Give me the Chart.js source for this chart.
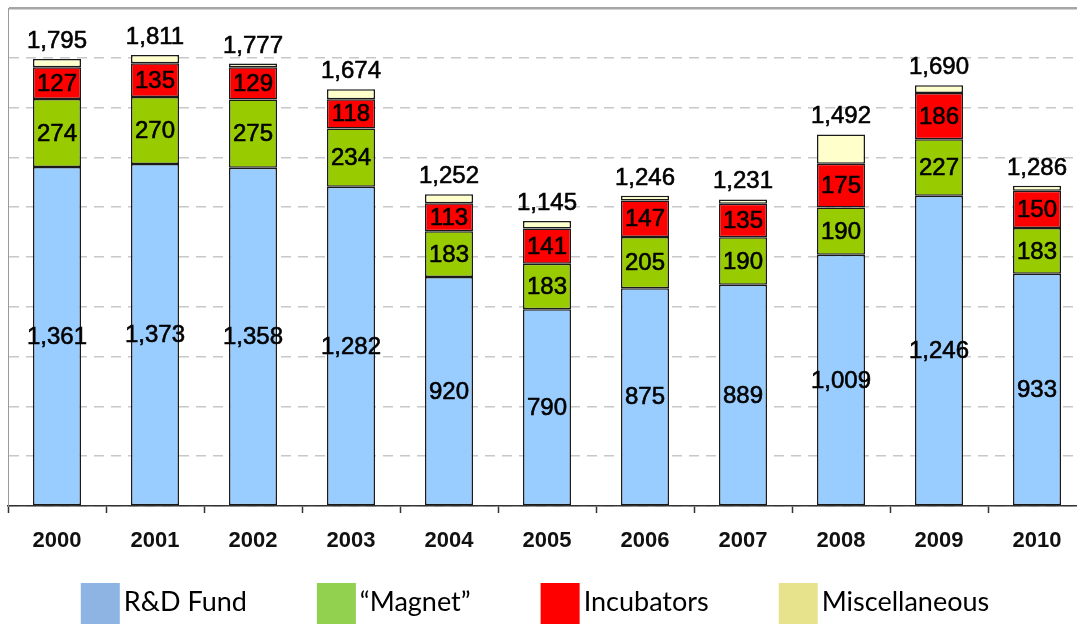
<!DOCTYPE html>
<html>
<head>
<meta charset="utf-8">
<script src="https://cdn.jsdelivr.net/npm/chart.js@4/dist/chart.umd.min.js"></script>
<style>
  html, body { margin: 0; padding: 0; background: #fff; overflow: hidden; }
  #wrap { position: relative; width: 1086px; height: 624px; }
</style>
</head>
<body>
<div id="wrap"><canvas id="c"></canvas></div>
<script>
const years = ['2000','2001','2002','2003','2004','2005','2006','2007','2008','2009','2010'];
const rdFund = [1361,1373,1358,1282,920,790,875,889,1009,1246,933];
const magnet = [274,270,275,234,183,183,205,190,190,227,183];
const incubators = [127,135,129,118,113,141,147,135,175,186,150];
const misc = [33,33,15,40,36,31,19,17,118,31,20];
const totals = [1795,1811,1777,1674,1252,1145,1246,1231,1492,1690,1286];
const seriesNames = ['R&D Fund', '\u201CMagnet\u201D', 'Incubators', 'Miscellaneous'];
const barColors = ['#99CCFF', '#99CC00', '#FF0000', '#FFFFCC'];
const legendColors = ['#8EB4E3', '#92D050', '#FF0000', '#E6E38C'];
const yMax = 2000;
const yStep = 200;

const fmt = v => v.toLocaleString('en-US');

const labelPlugin = {
  id: 'valueLabels',
  afterDatasetsDraw(chart) {
    const ctx = chart.ctx;
    ctx.save();
    ctx.fillStyle = '#000';
    ctx.strokeStyle = '#000';
    ctx.lineWidth = 0.6;
    ctx.font = '24px "Liberation Sans", Arial, sans-serif';
    ctx.textAlign = 'center';
    ctx.textBaseline = 'middle';
    const draw = (t, x, y) => { ctx.fillText(t, x, y); ctx.strokeText(t, x, y); };
    for (let d = 0; d < 3; d++) {
      const meta = chart.getDatasetMeta(d);
      meta.data.forEach((el, i) => {
        const v = chart.data.datasets[d].data[i];
        draw(fmt(v), el.x, (el.y + el.base) / 2 + 1);
      });
    }
    const top = chart.getDatasetMeta(3);
    ctx.textBaseline = 'alphabetic';
    top.data.forEach((el, i) => {
      draw(fmt(totals[i]), el.x, el.y - 11);
    });
    ctx.restore();
  }
};

const legendPlugin = {
  id: 'bottomLegend',
  afterDraw(chart) {
    const ctx = chart.ctx;
    ctx.save();
    ctx.font = '27px Lato, "Noto Sans", sans-serif';
    ctx.textBaseline = 'middle';
    const boxW = 39, gapTxt = 4, gapItem = 70;
    const widths = seriesNames.map(n => boxW + gapTxt + ctx.measureText(n).width);
    const total = widths.reduce((a, b) => a + b, 0) + gapItem * (seriesNames.length - 1);
    let x = 535 - total / 2;
    seriesNames.forEach((n, i) => {
      ctx.fillStyle = legendColors[i];
      ctx.fillRect(x, 583, boxW, 45);
      ctx.fillStyle = '#000';
      ctx.textAlign = 'left';
      ctx.fillText(n, x + boxW + gapTxt, 602);
      x += widths[i] + gapItem;
    });
    ctx.restore();
  }
};

const datasets = [rdFund, magnet, incubators, misc].map((arr, i) => ({
  label: seriesNames[i],
  data: arr,
  backgroundColor: barColors[i],
  borderColor: '#1a1a1a',
  borderWidth: 1.5,
  borderSkipped: false,
  categoryPercentage: 1,
  barPercentage: 0.49
}));

new Chart(document.getElementById('c'), {
  type: 'bar',
  data: { labels: years, datasets },
  options: {
    responsive: true,
    maintainAspectRatio: false,
    animation: false,
    layout: { padding: { left: 0, right: 0, top: 8, bottom: 0 } },
    plugins: { legend: { display: false }, tooltip: { enabled: false }, title: { display: false } },
    scales: {
      x: {
        stacked: true,
        afterFit: s => { s.height = 118; },
        grid: {
          offset: true,
          drawOnChartArea: false,
          drawTicks: true,
          tickLength: 7,
          tickColor: '#333',
          tickWidth: 1.5
        },
        border: { display: true, color: '#333', width: 1.5 },
        ticks: {
          color: '#111',
          font: { family: '"Liberation Sans", Arial, sans-serif', size: 22, weight: 'bold' },
          padding: 15,
          maxRotation: 0
        }
      },
      y: {
        stacked: true,
        min: 0,
        max: yMax,
        afterFit: s => { s.width = 8; },
        ticks: { display: false, stepSize: yStep },
        grid: {
          drawTicks: false,
          color: ctx => (ctx.tick && ctx.tick.value === yMax) ? '#A6A6A6' : '#C8C8C8',
          lineWidth: ctx => (ctx.tick && ctx.tick.value === yMax) ? 2.5 : 1.5
        },
        border: {
          display: true,
          color: '#9A9A9A',
          width: 1,
          dash: ctx => (ctx.tick && ctx.tick.value === yMax) ? [] : [10, 7]
        }
      }
    }
  },
  plugins: [labelPlugin, legendPlugin]
});
</script>
</body>
</html>
